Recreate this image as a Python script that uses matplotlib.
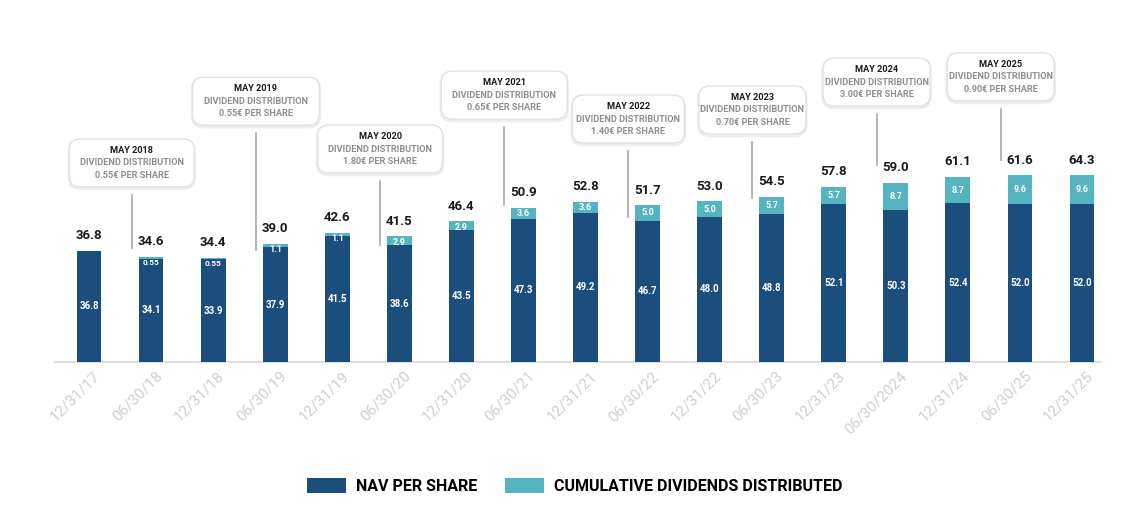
import numpy as np
import matplotlib
matplotlib.use("Agg")
import matplotlib.pyplot as plt
from matplotlib.patches import FancyBboxPatch, Patch
from matplotlib.transforms import ScaledTranslation

plt.rcParams['font.family'] = ['Roboto', 'DejaVu Sans']

# data
dates = ["12/31/17", "06/30/18", "12/31/18", "06/30/19", "12/31/19", "06/30/20",
         "12/31/20", "06/30/21", "12/31/21", "06/30/22", "12/31/22", "06/30/23",
         "12/31/23", "06/30/2024", "12/31/24", "06/30/25", "12/31/25"]
nav = [36.8, 34.1, 33.9, 37.9, 41.5, 38.6, 43.5, 47.3, 49.2, 46.7, 48.0, 48.8,
       52.1, 50.3, 52.4, 52.0, 52.0]
dividends = [0, 0.55, 0.55, 1.1, 1.1, 2.9, 2.9, 3.6, 3.6, 5.0, 5.0, 5.7,
             5.7, 8.7, 8.7, 9.6, 9.6]
div_labels = ["", "0.55", "0.55", "1.1", "1.1", "2.9", "2.9", "3.6", "3.6", "5.0", "5.0",
              "5.7", "5.7", "8.7", "8.7", "9.6", "9.6"]
totals = [36.8, 34.6, 34.4, 39.0, 42.6, 41.5, 46.4, 50.9, 52.8, 51.7, 53.0, 54.5,
          57.8, 59.0, 61.1, 61.6, 64.3]

# dividend events (placed after the bar with this index)
event_titles = ["MAY 2018", "MAY 2019", "MAY 2020", "MAY 2021", "MAY 2022",
                "MAY 2023", "MAY 2024", "MAY 2025"]
event_amounts = ["0.55€", "0.55€", "1.80€", "0.65€", "1.40€", "0.70€", "3.00€", "0.90€"]
event_after = [0, 2, 4, 6, 8, 10, 12, 14]

# callout layout (chart units)
box_y = [65.7, 86.1, 70.3, 88.1, 80.2, 83.2, 92.4, 94.1]
line_bottom = [37.6, 37.0, 38.6, 51.8, 47.9, 54.1, 65.0, 66.7]
box_w_px = [125, 127, 125, 126, 112, 107, 107, 107]

NAVY = '#1c4e7d'
TEAL = '#55b4c0'
GREY_TXT = '#8e8e8e'

fig = plt.figure(figsize=(11.4, 5.12), dpi=100)
ax = fig.add_axes([55 / 1140, 150 / 512, 1045 / 1140, 362 / 512])
xlim = (-0.548, 16.29)
ylim = (0, 119.5)
ax.set_xlim(*xlim)
ax.set_ylim(*ylim)
px_x = (xlim[1] - xlim[0]) / 1045.0
px_y = (ylim[1] - ylim[0]) / 362.0

x = np.arange(len(dates))
w = 0.40
ax.bar(x, nav, w, color=NAVY, zorder=3)
ax.bar(x, dividends, w, bottom=nav, color=TEAL, zorder=3)

for i in range(len(dates)):
    ax.text(x[i], nav[i] / 2, f"{nav[i]:.1f}", ha='center', va='center',
            color='white', fontsize=7, fontweight='bold', zorder=4)
    top = nav[i] + dividends[i]
    if dividends[i] > 0:
        ly = top - max(dividends[i] / 2, 1.9)
        fs = 6 if dividends[i] < 1 else 6.5
        ax.text(x[i], ly, div_labels[i], ha='center', va='center',
                color='white', fontsize=fs, fontweight='bold', zorder=4)
    ax.annotate(f"{totals[i]:.1f}", (x[i], top), xytext=(0, 11),
                textcoords='offset points', ha='center', va='center',
                fontsize=9.5, fontweight='bold', color='#1a1a1a')

# callouts
for k in range(len(event_titles)):
    cx = event_after[k] + 0.69
    cy = box_y[k]
    bw = box_w_px[k] * px_x
    bh = 48 * px_y
    aspect = px_y / px_x
    for off, col, lw in [(1.5, '#eeeeee', 2.5), (0, '#e2e2e2', 1.0)]:
        p = FancyBboxPatch((cx - bw / 2, cy - bh / 2 - off * px_y), bw, bh,
                           boxstyle=f"round,pad=0,rounding_size={11 * px_x}",
                           mutation_aspect=aspect, facecolor='white',
                           edgecolor=col, linewidth=lw, zorder=5)
        ax.add_patch(p)
    ax.annotate(event_titles[k], (cx, cy), xytext=(0, 9), textcoords='offset points',
                ha='center', va='center', fontsize=6.6, fontweight='bold',
                color='#1a1a1a', zorder=6)
    ax.annotate("DIVIDEND DISTRIBUTION", (cx, cy), xytext=(0, 0), textcoords='offset points',
                ha='center', va='center', fontsize=6.6, fontweight='bold',
                color=GREY_TXT, zorder=6)
    ax.annotate(f"{event_amounts[k]} PER SHARE", (cx, cy), xytext=(0, -9.2),
                textcoords='offset points', ha='center', va='center', fontsize=6.6,
                fontweight='bold', color=GREY_TXT, zorder=6)
    ax.plot([cx, cx], [cy - 10.5, line_bottom[k]], color='#a8a8a8', lw=1.2, zorder=2)

# axes styling
for s in ['top', 'right', 'left']:
    ax.spines[s].set_visible(False)
ax.spines['bottom'].set_color('#dedede')
ax.spines['bottom'].set_linewidth(1.5)
ax.set_yticks([])
ax.set_xticks(x)
ax.set_xticklabels(dates, rotation=45, ha='right', va='center', rotation_mode='anchor',
                   fontsize=11, color='#cfcfcf')
ax.tick_params(axis='x', length=0, pad=8.5)
shift = ScaledTranslation(9 / 100, 0, fig.dpi_scale_trans)
for lab in ax.get_xticklabels():
    lab.set_transform(lab.get_transform() + shift)

handles = [Patch(facecolor=NAVY), Patch(facecolor=TEAL)]
fig.legend(handles, ["NAV PER SHARE", "CUMULATIVE DIVIDENDS DISTRIBUTED"],
           loc='center', bbox_to_anchor=(0.504, 1 - 486 / 512), ncol=2, frameon=False,
           prop={'family': 'Roboto', 'weight': 'bold', 'size': 11.5},
           handlelength=2.45, handleheight=1.1, handletextpad=0.6, columnspacing=1.75,
           borderpad=0)

fig.savefig("out.png", dpi=100)
